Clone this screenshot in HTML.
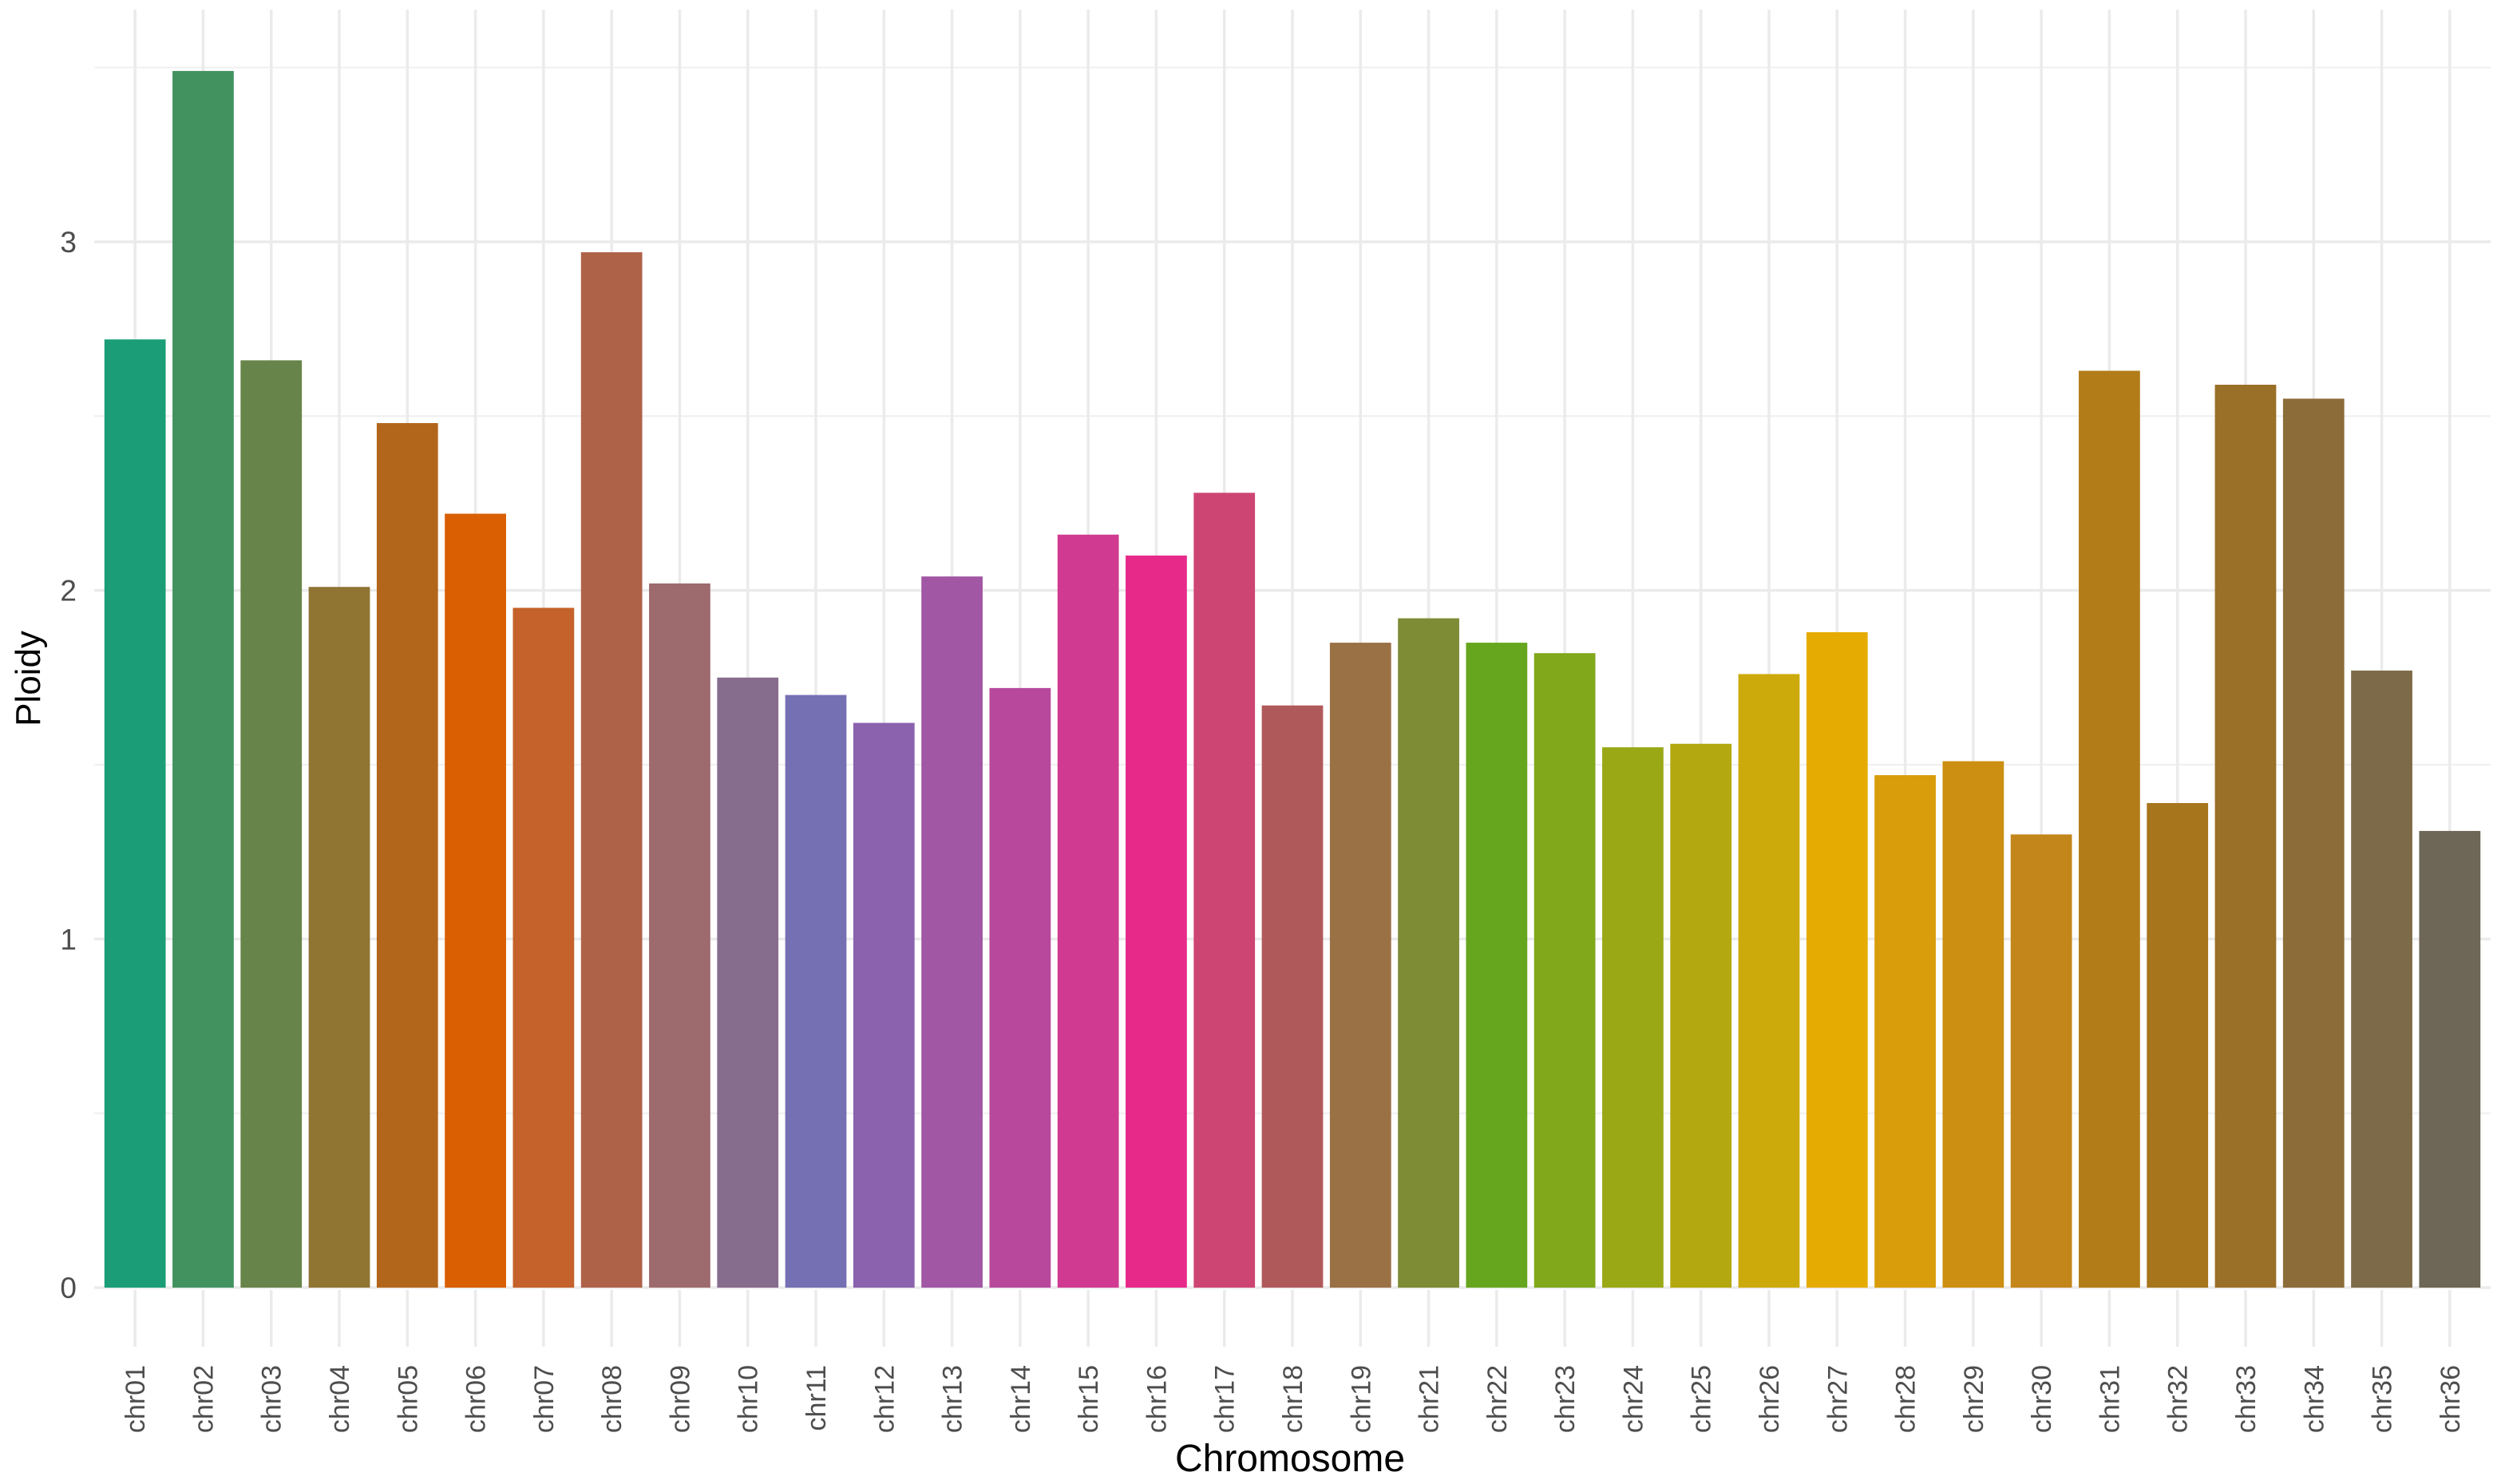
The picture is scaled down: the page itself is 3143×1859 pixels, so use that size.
<!DOCTYPE html>
<html><head><meta charset="utf-8"><style>
html,body{margin:0;padding:0;background:#fff;}
svg{display:block;font-family:"Liberation Sans",Arial,sans-serif;}
</style></head><body>
<svg id="chart" width="3143" height="1859" viewBox="0 0 3143 1859" xmlns="http://www.w3.org/2000/svg">
<rect x="0" y="0" width="3143" height="1859" fill="#fff"/>
<g id="grid"></g>
<g id="bars"></g>
<g id="yticks"></g>
<g id="xticks"></g>
<text x="1616" y="1843" font-size="48" text-anchor="middle" fill="#000">Chromosome</text>
<text transform="translate(50,850) rotate(-90)" font-size="44" text-anchor="middle" fill="#000">Ploidy</text>
</svg>
<script>
const categories = ["chr01","chr02","chr03","chr04","chr05","chr06","chr07","chr08","chr09","chr10","chr11","chr12","chr13","chr14","chr15","chr16","chr17","chr18","chr19","chr21","chr22","chr23","chr24","chr25","chr26","chr27","chr28","chr29","chr30","chr31","chr32","chr33","chr34","chr35","chr36"];
const ploidy = [2.72,3.49,2.66,2.01,2.48,2.22,1.95,2.97,2.02,1.75,1.70,1.62,2.04,1.72,2.16,2.10,2.28,1.67,1.85,1.92,1.85,1.82,1.55,1.56,1.76,1.88,1.47,1.51,1.30,2.63,1.39,2.59,2.55,1.77,1.31];
const barColors = ["#1b9e77","#41925f","#67844a","#8f7432","#b2661b","#d95f02","#c5612a","#ae6349","#9d6b6d","#876d8d","#7570b3","#8a62ae","#a157a4","#b7489c","#d03a90","#e7298a","#cd4572","#b0595b","#9a7045","#7d8c35","#66a61e","#80a81a","#9aa815","#b3a80f","#ccaa0b","#e6ab02","#d99c0a","#cc8f11","#c2861a","#b27c18","#a7751c","#9a6f28","#8c6c38","#7d6a48","#6e6656"];
const yTicks = [0,1,2,3];
const yMinor = [0.5,1.5,2.5,3.5];

const NS = "http://www.w3.org/2000/svg";
const panelLeft = 118, panelRight = 3120, panelTop = 12, y0px = 1613, unitPx = 436.7;
const step = (panelRight - panelLeft) / (categories.length + 0.2);
function xScale(i){ return panelLeft + step * (0.6 + i); }
function yScale(v){ return y0px - v * unitPx; }
function mk(tag, attrs, parent){ const e = document.createElementNS(NS, tag); for (const k in attrs) e.setAttribute(k, attrs[k]); parent.appendChild(e); return e; }

const grid = document.getElementById("grid");
yMinor.forEach(v => {
  const l = mk("line", {x1: panelLeft, x2: panelRight, y1: yScale(v), y2: yScale(v), stroke: "#f0f0f0", "stroke-width": 2.2}, grid);
  
  
});
yTicks.forEach(v => {
  const l = mk("line", {x1: panelLeft, x2: panelRight, y1: yScale(v), y2: yScale(v), stroke: "#ebebeb", "stroke-width": 3.5}, grid);
  
  
});
categories.forEach((c, i) => {
  const l = mk("line", {x1: xScale(i), x2: xScale(i), y1: panelTop, y2: y0px, stroke: "#ebebeb", "stroke-width": 3.5}, grid);
  
  
});

const bars = document.getElementById("bars");
const bw = step * 0.9;
ploidy.forEach((v, i) => {
  const r = mk("rect", {x: xScale(i) - bw/2, y: yScale(v), width: bw, height: yScale(0) - yScale(v), fill: barColors[i % barColors.length]}, bars);
  
  
});

const yt = document.getElementById("yticks");
yTicks.forEach(v => {
  const t = mk("text", {x: 96, y: yScale(v) + 13, "font-size": 37, "text-anchor": "end", fill: "#4d4d4d"}, yt);
  t.textContent = String(v);
  
  
});

const xt = document.getElementById("xticks");
categories.forEach((c, i) => {
  const tk = mk("line", {x1: xScale(i), x2: xScale(i), y1: 1616, y2: 1687, stroke: "#ebebeb", "stroke-width": 3.5}, xt);
  
  
  const t = mk("text", {transform: "translate(" + (xScale(i) + 12) + ",1710) rotate(-90)", "font-size": 34, "text-anchor": "end", fill: "#4d4d4d"}, xt);
  t.textContent = c;
  
  
});
</script>
</body></html>
